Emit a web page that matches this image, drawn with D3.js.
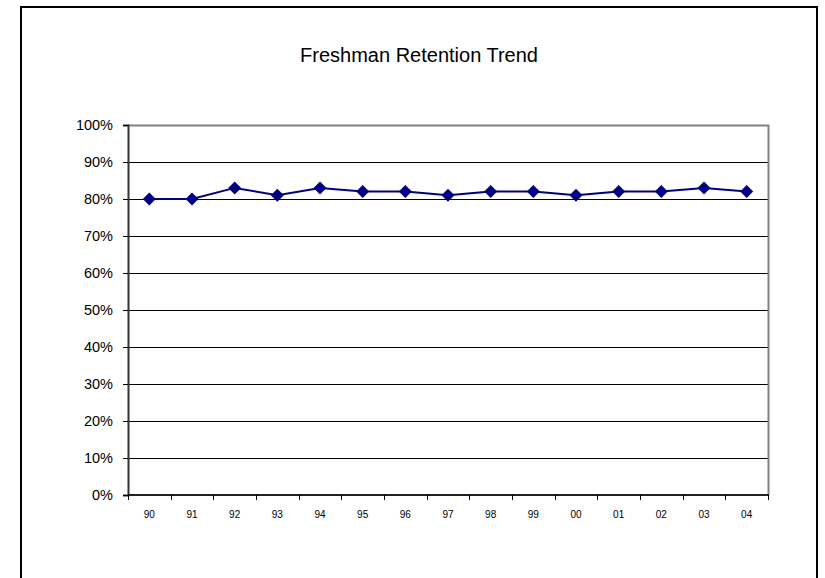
<!DOCTYPE html>
<html>
<head>
<meta charset="utf-8">
<script src="https://cdn.jsdelivr.net/npm/d3@7"></script>
<style>
  html, body { margin: 0; padding: 0; background: #fff; }
  svg { display: block; font-family: "Liberation Sans", Arial, sans-serif; }
</style>
</head>
<body>
<svg id="chart" width="825" height="578"></svg>
<script>
// Freshman retention rate by entering class year
const years = ["90", "91", "92", "93", "94", "95", "96", "97", "98", "99", "00", "01", "02", "03", "04"];
const retention = [0.80, 0.80, 0.83, 0.81, 0.83, 0.82, 0.82, 0.81, 0.82, 0.82, 0.81, 0.82, 0.82, 0.83, 0.82];
const yTicks = [0, 0.1, 0.2, 0.3, 0.4, 0.5, 0.6, 0.7, 0.8, 0.9, 1.0];
const title = "Freshman Retention Trend";

const svg = d3.select("#chart");

// outer chart frame
svg.append("rect")
  .attr("x", 21).attr("y", 7)
  .attr("width", 796).attr("height", 580)
  .attr("fill", "#fff").attr("stroke", "#000").attr("stroke-width", 2);

const plot = { left: 128, top: 125, right: 768, bottom: 495 };

const x = d3.scaleBand().domain(years).range([plot.left, plot.right]);
const y = d3.scaleLinear().domain([0, 1]).range([plot.bottom, plot.top]);

// title
svg.append("text")
  .attr("x", 419).attr("y", 62)
  .attr("text-anchor", "middle")
  .attr("font-size", 20)
  .attr("fill", "#000")
  .text(title);

// horizontal gridlines
svg.append("g")
  .selectAll("line")
  .data(yTicks.filter(t => t > 0 && t < 1))
  .join("line")
  .attr("x1", plot.left).attr("x2", plot.right)
  .attr("y1", d => Math.round(y(d)) + 0.5).attr("y2", d => Math.round(y(d)) + 0.5)
  .attr("stroke", "#000").attr("stroke-width", 1);

// plot area border (top and right)
svg.append("path")
  .attr("d", `M${plot.left},${plot.top + 0.5}H${plot.right + 0.5}V${plot.bottom}`)
  .attr("fill", "none").attr("stroke", "#808080").attr("stroke-width", 2);

// y axis
const yAxis = d3.axisLeft(y)
  .tickValues(yTicks)
  .tickFormat(d3.format(".0%"))
  .tickSize(5)
  .tickPadding(10);
const gy = svg.append("g")
  .attr("transform", `translate(${plot.left},0)`)
  .call(yAxis);
gy.select(".domain").attr("stroke", "#333").attr("stroke-width", 2);
gy.selectAll(".tick line").attr("stroke", "#000");
gy.selectAll(".tick text")
  .attr("font-size", 14.5)
  .attr("font-family", "'Liberation Sans', Arial, sans-serif")
  .attr("fill", "#000");

// x axis: ticks at category boundaries, labels centred in each band
const gx = svg.append("g")
  .attr("transform", `translate(0,${plot.bottom})`);
gx.append("line")
  .attr("x1", plot.left).attr("x2", plot.right + 1)
  .attr("y1", 0).attr("y2", 0)
  .attr("stroke", "#222").attr("stroke-width", 2);
const bounds = years.map(d => x(d)).concat([x.range()[1]]);
gx.selectAll("line.tick")
  .data(bounds)
  .join("line")
  .attr("class", "tick")
  .attr("x1", d => Math.round(d) + 0.5).attr("x2", d => Math.round(d) + 0.5)
  .attr("y1", 0).attr("y2", 5)
  .attr("stroke", "#000");
gx.selectAll("text")
  .data(years)
  .join("text")
  .attr("x", d => x(d) + x.bandwidth() / 2)
  .attr("y", 23)
  .attr("text-anchor", "middle")
  .attr("font-size", 10)
  .attr("fill", "#000")
  .text(d => d);

// retention line
const line = d3.line()
  .x((d, i) => x(years[i]) + x.bandwidth() / 2)
  .y(d => y(d));
svg.append("path")
  .datum(retention)
  .attr("d", line)
  .attr("fill", "none")
  .attr("stroke", "#000080")
  .attr("stroke-width", 2);

// diamond markers
svg.append("g")
  .selectAll("path")
  .data(retention)
  .join("path")
  .attr("transform", (d, i) => `translate(${x(years[i]) + x.bandwidth() / 2},${y(d)})`)
  .attr("d", "M0,-6.5L6.5,0L0,6.5L-6.5,0Z")
  .attr("fill", "#000080");
</script>
</body>
</html>
